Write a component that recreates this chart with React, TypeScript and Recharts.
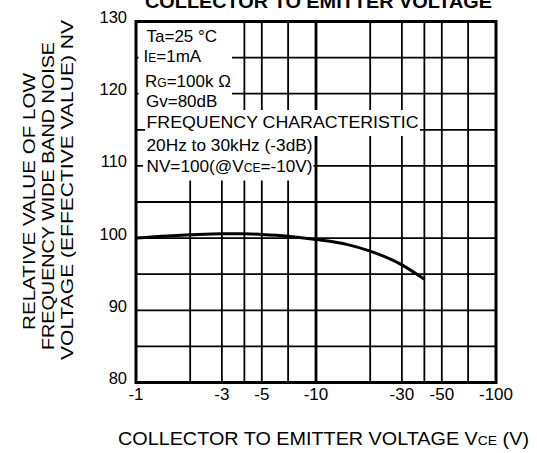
import { LineChart, Line, XAxis, YAxis, ReferenceLine, ReferenceArea } from 'recharts';

// VCE magnitudes (V) and relative NV
const vce = [1, 1.5, 2, 3, 4, 5, 7, 10, 15, 20, 30, 40];
const nv = [100.0, 100.3, 100.45, 100.6, 100.6, 100.5, 100.25, 99.8, 99.1, 98.2, 96.3, 94.3];

const xTicks = [1, 3, 5, 10, 30, 50, 100];
const yTicks = [80, 90, 100, 110, 120, 130];
const xGrid = [2, 3, 4, 5, 7, 20, 30, 40, 50, 70];
const yGrid = [85, 90, 95, 100, 105, 110, 115, 120, 125];

const FONT = '"Liberation Sans", Arial, Helvetica, sans-serif';

const data = vce.map((v, i) => ({ vce: v, nv: nv[i] }));

function XTick({ x, y, payload }: any) {
  return (
    <text x={x} y={y + 17.5} textAnchor="middle" fontSize={17} fontFamily={FONT} fill="#000">
      {`-${payload.value}`}
    </text>
  );
}

function YTick({ x, y, payload }: any) {
  return (
    <text x={x - 9} y={y + 1.5} textAnchor="end" fontSize={16.5} fontFamily={FONT} fill="#000">
      {payload.value}
    </text>
  );
}

function YLabel({ cx, cy, len, children }: any) {
  return (
    <text
      transform={`translate(${cx},${cy}) rotate(-90)`}
      x={0}
      y={5.5}
      textAnchor="middle"
      fontSize={16}
      fontFamily={FONT}
      textLength={len}
      lengthAdjust="spacingAndGlyphs"
      fill="#000"
    >
      {children}
    </text>
  );
}

export default function App() {
  return (
    <div style={{ position: 'absolute', left: 0, top: 0, width: 537, height: 453, background: '#fff', overflow: 'hidden' }}>
      <LineChart width={537} height={453} data={data} margin={{ top: 21.5, right: 41, bottom: 40.5, left: 80 }}>
        <XAxis
          dataKey="vce"
          type="number"
          scale="log"
          domain={[1, 100]}
          ticks={xTicks}
          axisLine={false}
          tickLine={false}
          tickSize={0}
          tickMargin={0}
          height={30}
          tick={<XTick />}
          allowDataOverflow
        />
        <YAxis
          type="number"
          domain={[80, 130]}
          ticks={yTicks}
          axisLine={false}
          tickLine={false}
          tickSize={0}
          tickMargin={0}
          width={56}
          tick={<YTick />}
        />
        {yGrid.map((v) => (
          <ReferenceLine key={`h${v}`} y={v} stroke="#000" strokeWidth={1.8} />
        ))}
        {xGrid.map((v) => (
          <ReferenceLine key={`v${v}`} x={v} stroke="#000" strokeWidth={1.8} />
        ))}
        <ReferenceLine x={10} stroke="#000" strokeWidth={2.8} />
        <ReferenceArea x1={1} x2={100} y1={80} y2={130} fill="none" stroke="#000" strokeWidth={3} />
        <Line dataKey="nv" type="monotone" stroke="#000" strokeWidth={3} dot={false} isAnimationActive={false} />
      </LineChart>

      <svg width={537} height={453} style={{ position: 'absolute', left: 0, top: 0, pointerEvents: 'none' }} fontFamily={FONT}>
        <text x={145} y={8} fontSize={19} fontWeight="bold" textLength={347} lengthAdjust="spacingAndGlyphs">
          COLLECTOR TO EMITTER VOLTAGE
        </text>

        <rect x={138.5} y={23} width={93.5} height={87} fill="#fff" />
        <rect x={145} y={110} width={275} height={26} fill="#fff" />
        <rect x={143} y={136} width={170.5} height={44.5} fill="#fff" />

        <g fontSize={17} fill="#000">
          <text x={146.5} y={42}>Ta=25 °C</text>
          <text x={143.5} y={62}>
            I<tspan fontSize={12}>E</tspan>=1mA
          </text>
          <text x={145} y={87}>
            R<tspan fontSize={12}>G</tspan>=100k Ω
          </text>
          <text x={146} y={107}>Gv=80dB</text>
          <text x={146.5} y={127.5} textLength={272} lengthAdjust="spacingAndGlyphs">
            FREQUENCY CHARACTERISTIC
          </text>
          <text x={146.5} y={151} textLength={166} lengthAdjust="spacingAndGlyphs">
            20Hz to 30kHz (-3dB)
          </text>
          <text x={146.5} y={172} textLength={166} lengthAdjust="spacingAndGlyphs">
            NV=100(@V<tspan fontSize={12}>CE</tspan>=-10V)
          </text>
        </g>

        <YLabel cx={29} cy={201.5} len={257}>RELATIVE VALUE OF LOW</YLabel>
        <YLabel cx={48.5} cy={196} len={308}>FREQUENCY WIDE BAND NOISE</YLabel>
        <YLabel cx={67.5} cy={190} len={340}>VOLTAGE (EFFECTIVE VALUE) NV</YLabel>

        <text x={118} y={445} fontSize={18.5} textLength={411} lengthAdjust="spacingAndGlyphs">
          COLLECTOR TO EMITTER VOLTAGE V<tspan fontSize={13}>CE</tspan> (V)
        </text>
      </svg>
    </div>
  );
}
